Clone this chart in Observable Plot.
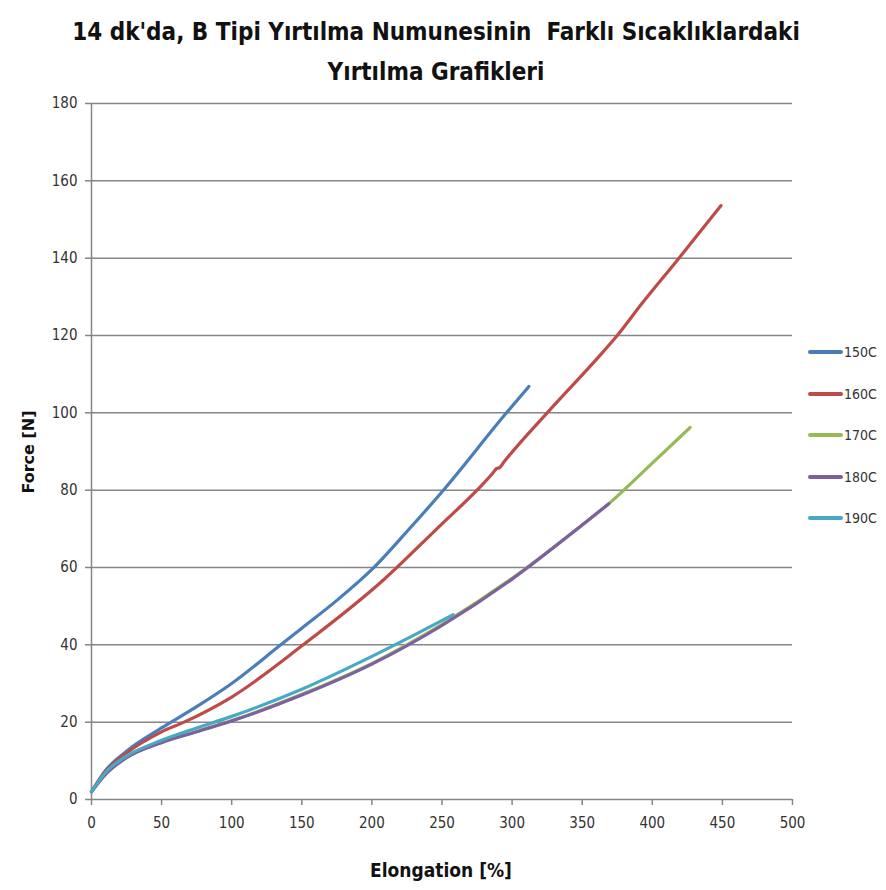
<!DOCTYPE html>
<html>
<head>
<meta charset="utf-8">
<script src="https://cdn.jsdelivr.net/npm/d3@7"></script>
<script src="https://cdn.jsdelivr.net/npm/@observablehq/plot@0.6"></script>
<style>
  html, body { margin: 0; padding: 0; background: #fff; }
  #wrap { position: relative; width: 886px; height: 890px; overflow: hidden; }
  .title { position: absolute; left: 0; width: 872px; text-align: center; white-space: pre;
           font-family: "DejaVu Sans Condensed", "DejaVu Sans", sans-serif; font-weight: bold;
           font-size: 24px; color: #111; }
  #chart { position: absolute; left: 0; top: 90px; }
  .ylab { position: absolute; left: 28px; top: 452px; transform: translate(-50%, -50%) rotate(-90deg);
          font-family: "DejaVu Sans", sans-serif; font-weight: bold; font-size: 16px; color: #111; white-space: pre; }
  .xlab { position: absolute; left: 441px; top: 870px; transform: translate(-50%, -50%);
          font-family: "DejaVu Sans Condensed", "DejaVu Sans", sans-serif; font-weight: bold; font-size: 19px; color: #111; white-space: pre; }
  .leg { position: absolute; left: 808px; width: 80px; height: 16px; }
  .leg .sw { position: absolute; left: 0; top: 6px; width: 35px; height: 4px; border-radius: 2px; }
  .leg .tx { position: absolute; left: 36px; top: 0; font-family: "Liberation Sans Narrow", "DejaVu Sans Condensed", sans-serif;
             font-size: 14px; color: #333; line-height: 16px; }
</style>
</head>
<body>
<div id="wrap">
  <div class="title" style="top:18px">14 dk'da, B Tipi Yırtılma Numunesinin  Farklı Sıcaklıklardaki</div>
  <div class="title" style="top:58px">Yırtılma Grafikleri</div>
  <div id="chart"></div>
  <div class="ylab">Force [N]</div>
  <div class="xlab">Elongation [%]</div>
</div>
<script>
const seriesNames = ["150C", "160C", "170C", "180C", "190C"];
const seriesColors = ["#4A7EBB", "#BE4B48", "#98B954", "#7D60A0", "#46AAC5"];
const xTicks = [0, 50, 100, 150, 200, 250, 300, 350, 400, 450, 500];
const yTicks = [0, 20, 40, 60, 80, 100, 120, 140, 160, 180];

const elong150 = [0, 10, 25, 50, 75, 100, 135, 150, 175, 200, 225, 251, 296, 312];
const force150 = [2, 7.5, 12.5, 18.5, 24, 30, 40, 44.3, 51.5, 59.5, 69.3, 80, 100, 106.8];

const elong160 = [0, 10, 25, 50, 66, 100, 151, 208, 250, 275, 286, 289, 291, 294, 325, 363, 375, 392, 419, 449];
const force160 = [2, 7.3, 12, 17.5, 20, 26.5, 40, 56.7, 71.3, 80, 84.3, 85.6, 85.8, 87.2, 100, 115, 120, 128, 140, 153.6];

const elong170 = [0, 10, 25, 50, 75, 100, 150, 200, 250, 300, 350, 369, 400, 427];
const force170 = [2, 6.6, 10.9, 14.8, 17.6, 20.4, 27.2, 35.2, 45.3, 57.2, 71, 76.5, 87, 96.2];

const elong180 = [0, 10, 25, 50, 75, 100, 150, 200, 250, 300, 350, 369];
const force180 = [2, 6.5, 10.8, 14.7, 17.5, 20.3, 27, 35, 45, 57, 71, 76.5];

const elong190 = [0, 10, 25, 50, 75, 100, 150, 200, 230, 258];
const force190 = [2, 7, 11.2, 15.3, 18.5, 21.5, 28.5, 37, 42.5, 47.8];

const elongs = [elong150, elong160, elong170, elong180, elong190];
const forces = [force150, force160, force170, force180, force190];
const rows = [];
seriesNames.forEach((s, i) => elongs[i].forEach((e, j) => rows.push({series: s, e, f: forces[i][j]})));

const axisColor = "#868686";
const plot = Plot.plot({
  width: 886, height: 800,
  marginLeft: 91, marginRight: 94, marginTop: 13, marginBottom: 91,
  style: {fontFamily: "'Liberation Sans Narrow', 'DejaVu Sans Condensed', sans-serif", fontSize: "15px", color: "#333", background: "#fff"},
  x: {domain: [0, 500]},
  y: {domain: [0, 180]},
  color: {domain: seriesNames, range: seriesColors},
  marks: [
    Plot.gridY(yTicks, {stroke: axisColor, strokeOpacity: 1, strokeWidth: 1.5}),
    Plot.ruleX([0], {stroke: axisColor, strokeWidth: 1.5}),
    Plot.axisX(xTicks, {tickSize: 6, tickPadding: 12, stroke: axisColor, strokeWidth: 1.5, label: null, fill: "#333"}),
    Plot.axisY(yTicks, {tickSize: 6, tickPadding: 8, stroke: axisColor, strokeWidth: 1.5, label: null, fill: "#333"}),
    Plot.line(rows, {x: "e", y: "f", z: "series", stroke: "series", strokeWidth: 3.2, curve: "monotone-x"})
  ]
});
document.getElementById("chart").appendChild(plot);

const legendY = [352, 394, 435, 477, 518];
const wrap = document.getElementById("wrap");
seriesNames.forEach((s, i) => {
  const d = document.createElement("div");
  d.className = "leg";
  d.style.top = (legendY[i] - 8) + "px";
  d.innerHTML = `<div class="sw" style="background:${seriesColors[i]}"></div><div class="tx">${s}</div>`;
  wrap.appendChild(d);
});
</script>
</body>
</html>
